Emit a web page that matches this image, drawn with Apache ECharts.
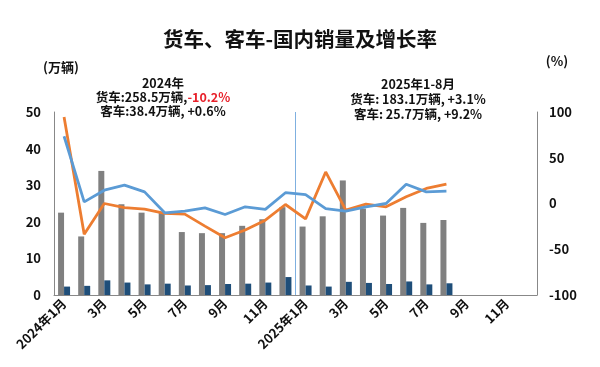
<!DOCTYPE html>
<html><head><meta charset="utf-8">
<script src="https://cdn.jsdelivr.net/npm/echarts@6/dist/echarts.min.js"></script>
<style>html,body{margin:0;padding:0;background:#fff}#c{width:600px;height:367px}</style>
</head><body><div id="c"></div>
<script>
const categories = ['2024年1月','2月','3月','4月','5月','6月','7月','8月','9月','10月','11月','12月',
  '2025年1月','2月','3月','4月','5月','6月','7月','8月','9月','10月','11月','12月'];
const truckSales = [22.5,16.0,33.9,24.8,22.5,22.4,17.2,16.9,16.9,18.9,20.7,24.0,
  18.7,21.5,31.3,23.6,21.7,23.8,19.7,20.5,null,null,null,null];
const busSales = [2.3,2.5,4.0,3.4,2.9,3.1,2.6,2.7,3.0,3.1,3.4,4.9,
  2.6,2.3,3.6,3.3,3.0,3.7,2.9,3.2,null,null,null,null];
const truckGrowth = [94.5,-33.5,0,-4.4,-6.2,-10.9,-11.6,-24.7,-37.5,-29,-18.2,-1.1,
  -16.8,34.5,-7.3,-0.7,-3.6,7.3,16.4,21.1,null,null,null,null];
const busGrowth = [73.5,1.8,14.5,20,12.7,-10.2,-8.4,-4.7,-12,-3.6,-6.5,11.8,
  9.8,-5.5,-8.4,-3.6,0,21.1,12.7,13.5,null,null,null,null];
const leftTicks = {min:0,max:50,interval:10};
const rightTicks = {min:-100,max:100,interval:50};
const yearSplit = 12;

const FONT = '"Noto Sans CJK SC", sans-serif';
const chart = echarts.init(document.getElementById('c'));
chart.setOption({
  animation:false,
  title:{text:'货车、客车-国内销量及增长率',left:'center',top:24,
    textStyle:{fontFamily:FONT,fontSize:20.5,fontWeight:'bold',color:'#111'}},
  grid:{left:54,right:63,top:112,bottom:72},
  xAxis:[{type:'category',data:categories,z:3,
    axisLine:{lineStyle:{color:'#888',width:1}},axisTick:{show:false},
    axisLabel:{interval:1,rotate:45,fontFamily:FONT,fontWeight:'bold',fontSize:13,color:'#111',margin:6}},
    {type:'value',min:0,max:categories.length,interval:yearSplit,position:'bottom',
     axisLine:{show:false},axisTick:{show:false},axisLabel:{show:false},
     splitLine:{show:true,lineStyle:{color:['rgba(0,0,0,0)','#7fb0e0','rgba(0,0,0,0)'],width:1}}}],
  yAxis:[{type:'value',min:leftTicks.min,max:leftTicks.max,interval:leftTicks.interval,
    name:'(万辆)',nameLocation:'end',nameGap:38,nameTextStyle:{fontFamily:FONT,fontWeight:'bold',fontSize:13,color:'#111',align:'center',padding:[0,0,0,14]},
    axisLine:{show:true,lineStyle:{color:'#888'}},axisTick:{show:false},splitLine:{show:false},
    axisLabel:{fontFamily:FONT,fontWeight:'bold',fontSize:13,color:'#111',margin:13}},
   {type:'value',min:rightTicks.min,max:rightTicks.max,interval:rightTicks.interval,
    name:'(%)',nameLocation:'end',nameGap:44,nameTextStyle:{fontFamily:FONT,fontWeight:'bold',fontSize:13,color:'#111',align:'center',padding:[0,0,0,40]},
    axisLine:{show:true,lineStyle:{color:'#888'}},axisTick:{show:false},splitLine:{show:false},
    axisLabel:{fontFamily:FONT,fontWeight:'bold',fontSize:13,color:'#111',margin:12}}],
  series:[
    {name:'货车',type:'bar',data:truckSales,barWidth:6,barGap:'0%',itemStyle:{color:'#808080'}},
    {name:'客车',type:'bar',data:busSales,barWidth:6,barGap:'0%',itemStyle:{color:'#1f4e79'}},
    {name:'货车增长率',type:'line',yAxisIndex:1,data:truckGrowth,showSymbol:false,symbol:'none',
      lineStyle:{color:'#ed7d31',width:2.8},itemStyle:{color:'#ed7d31'}},
    {name:'客车增长率',type:'line',yAxisIndex:1,data:busGrowth,showSymbol:false,symbol:'none',
      lineStyle:{color:'#5b9bd5',width:2.8},itemStyle:{color:'#5b9bd5'}}
  ],
  graphic:[
    {type:'text',x:163,y:77,style:{text:'2024年',align:'center',font:'bold 12.5px '+FONT,fill:'#111'}},
    {type:'text',x:163,y:91,style:{text:'{a|货车:258.5万辆,}{r|-10.2%}',align:'center',
      rich:{a:{font:'bold 12.5px '+FONT,fill:'#111'},r:{font:'bold 12.5px '+FONT,fill:'#e8202a'}}}},
    {type:'text',x:163,y:105,style:{text:'客车:38.4万辆, +0.6%',align:'center',font:'bold 12.5px '+FONT,fill:'#111'}},
    {type:'text',x:418,y:78,style:{text:'2025年1-8月',align:'center',font:'bold 12.5px '+FONT,fill:'#111'}},
    {type:'text',x:418,y:93,style:{text:'货车: 183.1万辆, +3.1%',align:'center',font:'bold 12.5px '+FONT,fill:'#111'}},
    {type:'text',x:418,y:108,style:{text:'客车: 25.7万辆, +9.2%',align:'center',font:'bold 12.5px '+FONT,fill:'#111'}}
  ]
});
</script></body></html>
